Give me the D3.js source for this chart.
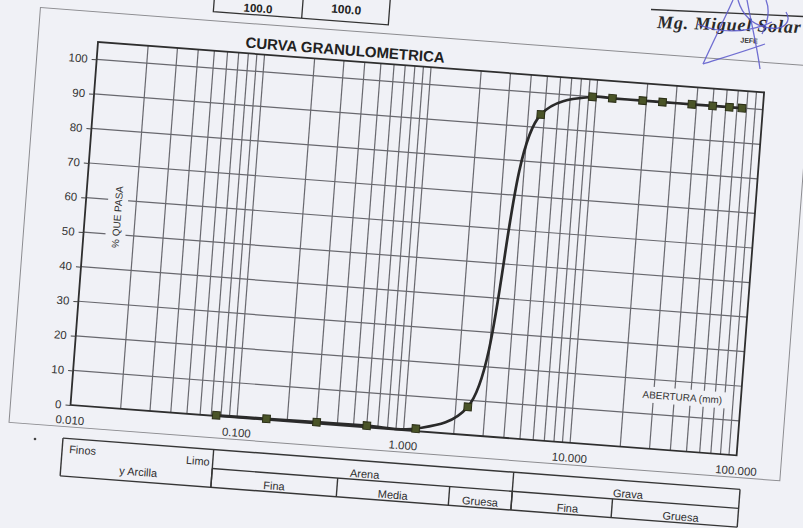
<!DOCTYPE html>
<html><head><meta charset="utf-8">
<script src="https://cdn.jsdelivr.net/npm/d3@7"></script>
<style>
html,body{margin:0;padding:0;background:#f0f1f6;}
svg{display:block;font-family:"Liberation Sans",Arial,sans-serif;}
</style>
</head><body>
<svg id="c" width="803" height="528"></svg>
<script>
// ---- data ----
const sieveSizes     = [0.075, 0.15, 0.3, 0.6, 1.18, 2.36, 4.75, 9.5, 12.5, 19, 25, 37.5, 50, 63, 75];
const percentPassing = [0.2, 0.3, 0.4, 0.5, 0.7, 8.1, 93.8, 100, 100, 100, 100, 100, 100, 100, 100];
const xTickValues = [0.01, 0.1, 1, 10, 100];
const xTickLabels = ["0.010", "0.100", "1.000", "10.000", "100.000"];
const yTickValues = [0, 10, 20, 30, 40, 50, 60, 70, 80, 90, 100];
const mainGroups = ["Arena", "Grava"];
const mainLimits = [[0.075, 4.75], [4.75, 100]];
const subGroups  = ["Fina", "Media", "Gruesa", "Fina", "Gruesa"];
const subLimits  = [[0.075, 0.425], [0.425, 2], [2, 4.75], [4.75, 19], [19, 100]];
const finesLabels = ["Finos", "Limo", "y Arcilla"];
const headerValues = ["100.0", "100.0"];
const titleText = "CURVA GRANULOMETRICA";

// ---- layout ----
const W = 668, H = 364;
const svg = d3.select("#c");
const bg = "#f0f1f6";
const x = d3.scaleLog().domain([0.01, 100]).range([0, W]);
const y = d3.scaleLinear().domain([0, 105]).range([H, 0]);

const g = svg.append("g").attr("transform", "translate(98,42) rotate(4.33)");

// top table fragment
g.append("path").attr("d", "M112.7,-70 L112.7,-39 L288.2,-39 L288.2,-70 M201.3,-70 L201.3,-39")
  .attr("stroke", "#333").attr("stroke-width", 1.3).attr("fill", "none");
g.append("text").attr("x", 157).attr("y", -41.5).attr("text-anchor", "middle")
  .attr("font-size", 11.5).attr("font-weight", "bold").attr("fill", "#222").text(headerValues[0]);
g.append("text").attr("x", 245).attr("y", -47).attr("text-anchor", "middle")
  .attr("font-size", 12).attr("font-weight", "bold").attr("fill", "#222").text(headerValues[1]);

// outer chart border
g.append("rect").attr("x", -60).attr("y", -30).attr("width", 773).attr("height", 416)
  .attr("fill", "none").attr("stroke", "#8c8c90").attr("stroke-width", 1);

// gridlines
const vLines = [];
for (let k = -2; k <= 1; k++) for (let m = 1; m <= 9; m++) {
  const v = m * Math.pow(10, k);
  if (v > 0.01) vLines.push(v);
}
g.append("g").selectAll("line").data(vLines).join("line")
  .attr("x1", d => x(d)).attr("x2", d => x(d)).attr("y1", 0).attr("y2", H)
  .attr("stroke", "#68686e").attr("stroke-width", 1.2);
g.append("g").selectAll("line").data(yTickValues.filter(d => d > 0)).join("line")
  .attr("x1", 0).attr("x2", W).attr("y1", d => y(d)).attr("y2", d => y(d))
  .attr("stroke", "#68686e").attr("stroke-width", 1.2);

// axis titles inside plot with background boxes
g.append("rect").attr("x", 22).attr("y", 135).attr("width", 20).attr("height", 76).attr("fill", bg);
g.append("text").attr("transform", "translate(36,173) rotate(-90)").attr("text-anchor", "middle")
  .attr("font-size", 10).attr("fill", "#333").text("% QUE PASA");
g.append("rect").attr("x", 562).attr("y", 302).attr("width", 95).attr("height", 16).attr("fill", bg);
g.append("text").attr("x", 609.5).attr("y", 313.6).attr("text-anchor", "middle")
  .attr("font-size", 10).attr("fill", "#333").text("ABERTURA (mm)");

// plot frame
g.append("rect").attr("x", 0).attr("y", 0).attr("width", W).attr("height", H)
  .attr("fill", "none").attr("stroke", "#2e2e2e").attr("stroke-width", 1.8);

// axes
const ya = g.append("g").call(d3.axisLeft(y).tickValues(yTickValues).tickSize(5).tickPadding(4));
ya.select(".domain").remove();
ya.selectAll("line").attr("stroke", "#444");
ya.selectAll("text").attr("font-size", 11.5).attr("fill", "#333").attr("font-family", "Liberation Sans, Arial, sans-serif");
const xa = g.append("g").attr("transform", `translate(0,${H})`)
  .call(d3.axisBottom(x).tickValues(xTickValues).tickFormat((d, i) => xTickLabels[i]).tickSize(0).tickPadding(11));
xa.select(".domain").remove();
xa.selectAll("text").attr("font-size", 11.5).attr("fill", "#333").attr("font-family", "Liberation Sans, Arial, sans-serif");

// title
g.append("text").attr("x", 247).attr("y", -5.5).attr("text-anchor", "middle")
  .attr("font-size", 15).attr("font-weight", "bold").attr("fill", "#222").text(titleText);

// curve
const pts = sieveSizes.map((s, i) => [s, percentPassing[i]]);
g.append("path").datum(pts)
  .attr("d", d3.line().x(d => x(d[0])).y(d => y(d[1])).curve(d3.curveCatmullRom.alpha(0.5)))
  .attr("fill", "none").attr("stroke", "#2a2a2a").attr("stroke-width", 2.7);
g.append("g").selectAll("rect").data(pts).join("rect")
  .attr("x", d => x(d[0]) - 3.75).attr("y", d => y(d[1]) - 3.75)
  .attr("width", 7.5).attr("height", 7.5)
  .attr("fill", "#4a5428").attr("stroke", "#2a2e16").attr("stroke-width", 1);

// classification table
const tb = g.append("g");
const tTop = 397.6, tMid = 416.7, tBot = 435.5, tLeft = -5, tRight = W + 6;
const cx = v => (v >= 100 ? tRight : x(v));
function ln(x1, y1, x2, y2) {
  tb.append("line").attr("x1", x1).attr("y1", y1).attr("x2", x2).attr("y2", y2)
    .attr("stroke", "#363636").attr("stroke-width", 1.4);
}
ln(tLeft, tTop, tRight, tTop);
ln(tLeft, tBot, tRight, tBot);
ln(tLeft, tTop, tLeft, tBot);
ln(tRight, tTop, tRight, tBot);
ln(cx(mainLimits[0][0]), tMid, tRight, tMid);
mainLimits.forEach(l => ln(cx(l[0]), tTop, cx(l[0]), tBot));
subLimits.forEach(l => ln(cx(l[0]), tMid, cx(l[0]), tBot));
function tx(xp, yp, txt, anchor) {
  tb.append("text").attr("x", xp).attr("y", yp).attr("text-anchor", anchor || "middle")
    .attr("font-size", 11).attr("fill", "#2e2e2e").text(txt);
}
tx(2, 412, finesLabels[0], "start");
tx(cx(mainLimits[0][0]) - 3, 414, finesLabels[1], "end");
tx((tLeft + cx(mainLimits[0][0])) / 2 + 2, 429.5, finesLabels[2]);
mainGroups.forEach((m, i) => tx((cx(mainLimits[i][0]) + cx(mainLimits[i][1])) / 2 + 2, 414.5, m));
subGroups.forEach((s, i) => tx((cx(subLimits[i][0]) + cx(subLimits[i][1])) / 2 + (i >= 3 ? 6 : 0), 433.2, s));

// signature block (pixel frame)
svg.append("path").attr("d", "M651,9.5 L803,16.5").attr("stroke", "#333").attr("stroke-width", 1.3).attr("fill", "none");
svg.append("text").attr("transform", "translate(657,28) rotate(2)")
  .attr("font-family", "Liberation Serif, serif").attr("font-style", "italic").attr("font-weight", "bold")
  .attr("font-size", 18).attr("letter-spacing", 0.8).attr("fill", "#2a2a2a").text("Mg. Miguel Solar");
svg.append("text").attr("transform", "translate(749,43) rotate(3)").attr("text-anchor", "middle")
  .attr("font-size", 7).attr("font-weight", "bold").attr("fill", "#333").text("JEFE");
const sig = svg.append("g").attr("fill", "none").attr("stroke", "#5a58cc").attr("stroke-width", 1.3).attr("opacity", 0.85);
sig.append("path").attr("d", "M703,64 C712,44 724,20 733,0");
sig.append("path").attr("d", "M703,64 C722,58 742,52 765,44");
sig.append("path").attr("d", "M747,0 C751,22 757,46 760,69");
sig.append("path").attr("d", "M697,24 C718,33 746,34 772,22");
sig.append("path").attr("d", "M738,0 C742,14 752,26 770,28 C784,30 792,22 786,12");
sig.append("path").attr("d", "M766,0 C770,10 768,22 762,34");

// stray dot
svg.append("circle").attr("cx", 35).attr("cy", 439).attr("r", 1.3).attr("fill", "#444");
</script>
</body></html>
